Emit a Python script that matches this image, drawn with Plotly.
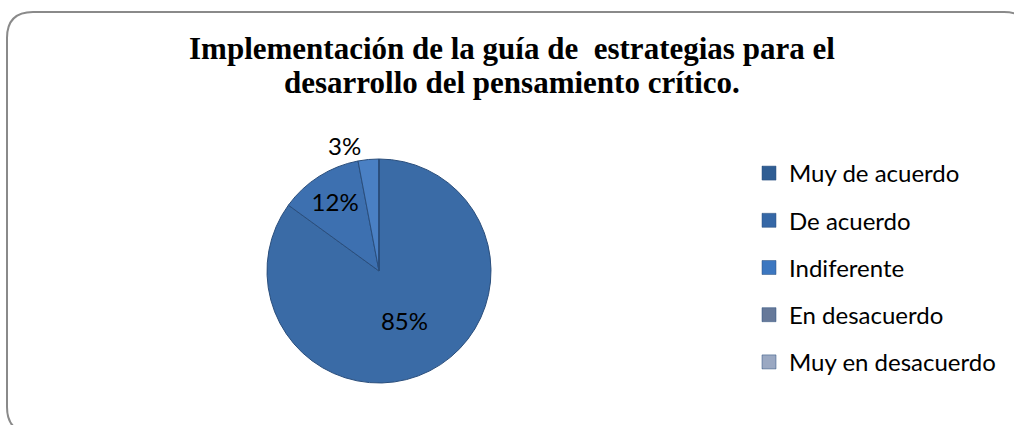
import plotly.graph_objects as go

categories = ["Muy de acuerdo", "De acuerdo", "Indiferente", "En desacuerdo", "Muy en desacuerdo"]
values = [85, 12, 3, 0, 0]
slice_colors = ["#3A6BA6", "#3D70B0", "#4A80C4", "#66799A", "#9AA8C2"]
legend_colors = ["#2F5D93", "#3567A6", "#3C77C0", "#66799A", "#9AA8C2"]
title_lines = ["Implementación de la guía de  estrategias para el",
               "desarrollo del pensamiento crítico."]

W, H = 1014, 425

def px(x):
    return x / W

def py(y):
    return 1 - y / H

fig = go.Figure()

textpos = ["inside" if v >= 10 else "outside" for v in values]
templates = ["%{percent:.0%}" if v > 0 else "" for v in values]

cx, cy, R = 379, 271, 112

fig.add_trace(go.Pie(
    labels=categories,
    values=values,
    sort=False,
    direction="clockwise",
    rotation=0,
    marker=dict(colors=slice_colors, line=dict(color="#2A4E7C", width=1)),
    texttemplate=templates,
    textposition=textpos,
    insidetextorientation="horizontal",
    textfont=dict(family="Lato, sans-serif", size=24, color="black"),
    showlegend=False,
    domain=dict(x=[px(cx - R), px(cx + R)], y=[py(cy + 150), py(cy - 150)]),
    hoverinfo="label+percent",
))

for cat, col in zip(categories, legend_colors):
    fig.add_trace(go.Scatter(
        x=[None], y=[None], mode="markers", name=cat, legendgroup=cat,
        marker=dict(symbol="square", size=14, color=col, line=dict(color="#2A4E7C", width=0.5)),
    ))

# rounded border (partially cut at right and bottom), drawn in pixel-like axis units
r = 26
x0, y0 = 7, 12
x1, y1 = 1030, 433
path = (
    f"M {x1} {y1 - r} "
    f"Q {x1} {y1} {x1 - r} {y1} "
    f"L {x0 + r} {y1} "
    f"Q {x0} {y1} {x0} {y1 - r} "
    f"L {x0} {y0 + r} "
    f"Q {x0} {y0} {x0 + r} {y0} "
    f"L {x1 - r} {y0} "
    f"Q {x1} {y0} {x1} {y0 + r} Z"
)

big = 31
title_html = "<br>".join(f'<span style="font-size:{big}px">{t}</span>' for t in title_lines)
title_font = dict(family="Liberation Serif, Times New Roman, serif", size=26, color="black", weight="bold")
annotations = [
    dict(text=title_html, xref="paper", yref="paper", x=px(512), y=py(66),
         xanchor="center", yanchor="middle", showarrow=False, font=title_font),
]

fig.update_layout(
    width=W, height=H,
    margin=dict(l=0, r=0, t=0, b=0, autoexpand=False),
    paper_bgcolor="white",
    plot_bgcolor="rgba(0,0,0,0)",
    xaxis=dict(visible=False, domain=[0, 1], range=[0, W], fixedrange=True),
    yaxis=dict(visible=False, domain=[0, 1], range=[H, 0], fixedrange=True),
    annotations=annotations,
    legend=dict(
        x=px(749), xanchor="left",
        y=py(151), yanchor="top",
        font=dict(family="Lato, sans-serif", size=24, color="black"),
        tracegroupgap=13,
        bgcolor="rgba(0,0,0,0)",
        itemclick=False, itemdoubleclick=False,
    ),
    shapes=[dict(type="path", xref="x", yref="y", path=path,
                 line=dict(color="#8A8A8A", width=2), layer="above")],
)

fig.write_html("out.html", config={"displayModeBar": False},
               post_script="document.body.style.margin='0';document.body.style.overflow='hidden';")
